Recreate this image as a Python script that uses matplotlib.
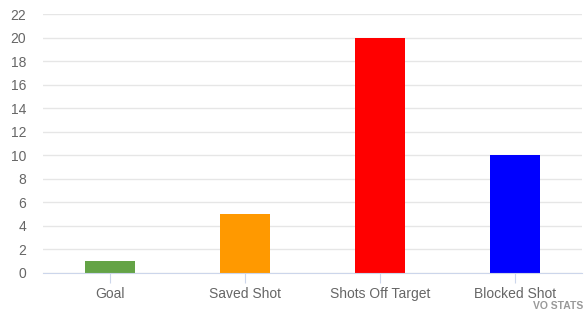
import matplotlib.pyplot as plt

categories = ['Goal', 'Saved Shot', 'Shots Off Target', 'Blocked Shot']
values = [1, 5, 20, 10]
colors = ['#64a346', '#ff9900', '#ff0000', '#0000ff']
yticks = list(range(0, 23, 2))

plt.rcParams['font.family'] = ['Liberation Sans', 'DejaVu Sans']

fig = plt.figure(figsize=(5.84, 3.14), dpi=100)
ax = fig.add_axes([43 / 584, 41 / 314, 539 / 584, 259 / 314])

x = range(len(categories))
ax.bar(x, values, width=0.37, color=colors, zorder=3)

ax.set_xlim(-0.5, 3.5)
ax.set_ylim(0, 22)
ax.set_yticks(yticks)
ax.set_xticks(list(x))
ax.set_xticklabels(categories)
ax.yaxis.grid(True, color='#e6e6e6', linewidth=1)
ax.set_axisbelow(True)

for s in ['top', 'right', 'left']:
    ax.spines[s].set_visible(False)
ax.spines['bottom'].set_color('#ccd6eb')
ax.spines['bottom'].set_zorder(4)

ax.tick_params(axis='y', length=0, pad=12, labelsize=10, labelcolor='#666666')
ax.tick_params(axis='x', length=7, color='#ccd6eb', pad=3, labelsize=10, labelcolor='#666666')

fig.text(583 / 584, 3 / 314, 'VO STATS', ha='right', va='bottom', fontsize=7.5, color='#999999', fontweight='bold')

plt.savefig('out.png', dpi=100)
